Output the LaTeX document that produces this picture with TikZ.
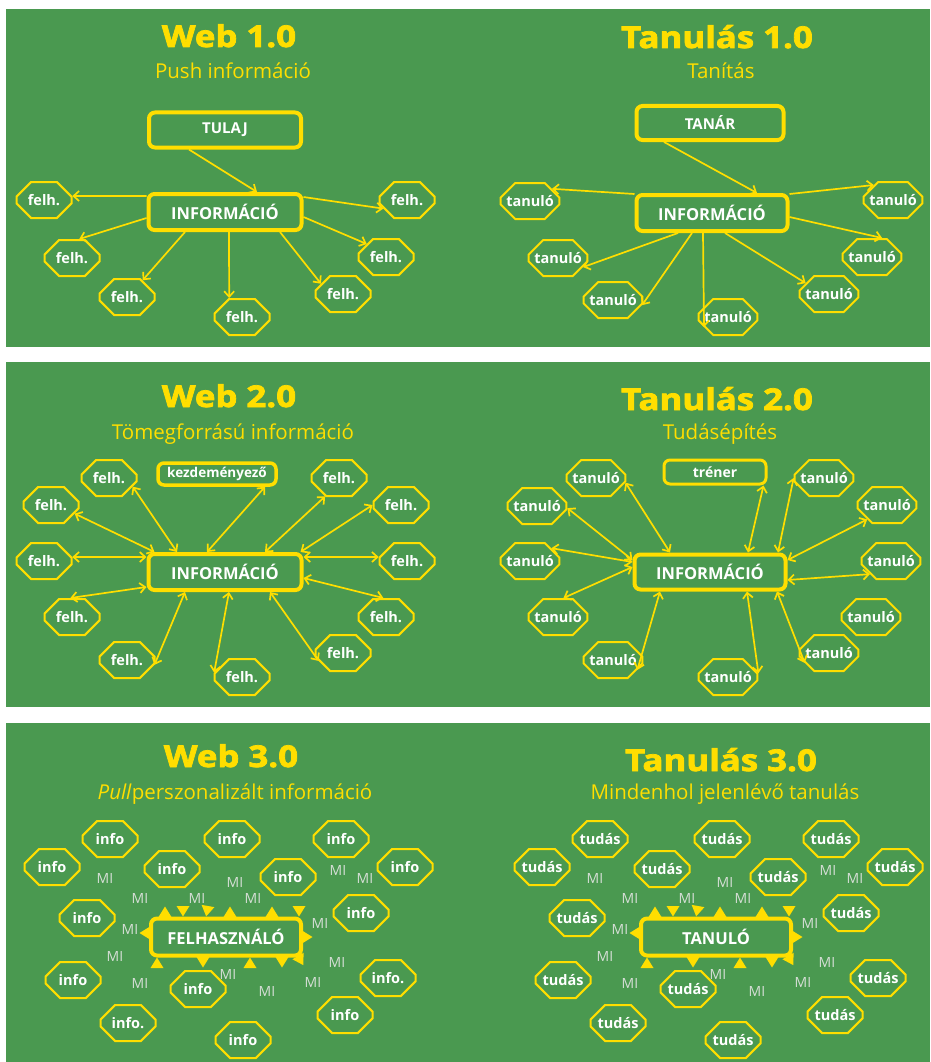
\documentclass[tikz,border=0pt]{standalone}
\usepackage{fontspec}
\setmainfont{Open Sans}
\newfontfamily\headfont{Open Sans}[BoldFeatures={FakeBold=2.5, FakeStretch=1.16}]
\usetikzlibrary{shapes.misc, arrows.meta, positioning}
\newcommand{\pxsize}[1]{\fontsize{#1}{#1}\selectfont}
\definecolor{boardgreen}{RGB}{74,153,80}
\definecolor{chalkyellow}{RGB}{255,222,0}
\definecolor{aigray}{RGB}{214,222,214}
\tikzstyle{panel_title} = [anchor=base, text=chalkyellow, font=\headfont\bfseries\pxsize{30}, inner sep=0pt]
\tikzstyle{panel_subtitle} = [anchor=base, text=chalkyellow, font=\pxsize{20.5}, inner sep=0pt]
\tikzstyle{center_box} = [rectangle, rounded corners=6pt, draw=chalkyellow, line width=4pt, text=white, font=\bfseries\pxsize{16.5}, minimum width=153pt, minimum height=36pt, inner sep=0pt]
\tikzstyle{member_node} = [chamfered rectangle, chamfered rectangle xsep=9pt, chamfered rectangle ysep=9pt, draw=chalkyellow, line width=2pt, text=white, font=\bfseries\pxsize{14.5}, minimum width=55pt, minimum height=36pt, inner sep=0pt]
\tikzstyle{ai_mark} = [text=aigray, font=\pxsize{14}, inner sep=0pt]
\tikzstyle{push_arrow} = [draw=chalkyellow, line width=1.7pt, -{Straight Barb[length=5.5pt, width=10pt]}]
\tikzstyle{share_arrow} = [draw=chalkyellow, line width=1.7pt, {Straight Barb[length=5.5pt, width=10pt]}-{Straight Barb[length=5.5pt, width=10pt]}]
\tikzset{spike/.pic={\fill[chalkyellow] (-6.5,0) -- (6.5,0) -- (0,-10.5) -- cycle;}}
% helyek a 3.0-s paneleken (x/y/felirat)
\newcommand{\cloudspots}{110/839/info, 52/867/info, 172/869/info, 232/839/info, 288/877/info, 341/839/info, 405/867/info, 87/918/info, 361/913/info, 73/980/info, 198/989/info, 388/978/info., 128/1023/info., 345/1015/info, 243/1040/info}
\newcommand{\aispots}{105/878, 140/898, 197/898, 235/882, 253/898, 338/870, 365/878, 130/929, 320/923, 115/956, 337/962, 140/983, 228/974, 267/991, 313/982}
\newcommand{\spikespots}{-61/-20/0, 4/-20/0, 46/-20/0, -43/-31/180, -18/-31/170, 73/-31/180, -76/-4/90, 76/0/-90, -69/31/0, 24/31/0, -23/20/180, 56/20/180, 72/19/210}

\begin{document}
\begin{tikzpicture}[x=1pt, y=-1pt]
\useasboundingbox (0,0) rectangle (930,1062);
\fill[boardgreen] (6,9) rectangle (930,347);
\fill[boardgreen] (6,362) rectangle (930,707);
\fill[boardgreen] (6,723) rectangle (930,1062);

% Web 1.0
\node (webOneTitle) [panel_title] at (229,47) {Web 1.0};
\node (webOneSub) [panel_subtitle] at (233,79) {Push információ};
\node (tulaj) [center_box, minimum width=152pt, minimum height=35pt, font=\bfseries\pxsize{15}] at (225,130) {TULAJ};
\node (webOneInfo) [center_box] at (225,212) {INFORMÁCIÓ};
\node (felhA) [member_node] at (44,200) {felh.};
\node (felhB) [member_node] at (72,258) {felh.};
\node (felhC) [member_node] at (127,297) {felh.};
\node (felhD) [member_node] at (242,317) {felh.};
\node (felhE) [member_node] at (343,294) {felh.};
\node (felhF) [member_node] at (386,257) {felh.};
\node (felhG) [member_node] at (407,200) {felh.};
\draw [push_arrow] ([xshift=-36pt]tulaj.south) -- ([xshift=32pt]webOneInfo.north);
\draw [push_arrow] ([yshift=16pt]webOneInfo.west) -- (felhA.8);
\draw [push_arrow] ([yshift=-6pt]webOneInfo.west) -- (felhB.69);
\draw [push_arrow] ([xshift=-40pt]webOneInfo.south) -- (felhC.47);
\draw [push_arrow] ([xshift=4pt]webOneInfo.south) -- (felhD.124);
\draw [push_arrow] ([xshift=55pt]webOneInfo.south) -- (felhE.155);
\draw [push_arrow] ([yshift=-5pt]webOneInfo.east) -- (felhF.146);
\draw [push_arrow] ([yshift=15pt]webOneInfo.east) -- (felhG.200);

% Tanulás 1.0
\node (tanOneTitle) [panel_title] at (717,48) {Tanulás 1.0};
\node (tanOneSub) [panel_subtitle] at (721,79) {Tanítás};
\node (tanar) [center_box, minimum width=147pt, minimum height=34pt, font=\bfseries\pxsize{15}] at (710,123) {TANÁR};
\node (tanOneInfo) [center_box, minimum width=151pt] at (712,213) {INFORMÁCIÓ};
\node (tanA) [member_node] at (530,201) {tanuló};
\node (tanB) [member_node] at (558,258) {tanuló};
\node (tanC) [member_node] at (613,300) {tanuló};
\node (tanD) [member_node] at (728,317) {tanuló};
\node (tanE) [member_node] at (829,294) {tanuló};
\node (tanF) [member_node] at (872,257) {tanuló};
\node (tanG) [member_node] at (893,200) {tanuló};
\draw [push_arrow] ([xshift=-46pt]tanar.south) -- ([xshift=45pt]tanOneInfo.north);
\draw [push_arrow] ([yshift=19pt]tanOneInfo.west) -- (tanA.29);
\draw [push_arrow] ([xshift=-34pt]tanOneInfo.south) -- (tanB.340);
\draw [push_arrow] ([xshift=-20pt]tanOneInfo.south) -- (tanC.350);
\draw [push_arrow] ([xshift=-9pt]tanOneInfo.south) -- (tanD.203);
\draw [push_arrow] ([xshift=13pt]tanOneInfo.south) -- (tanE.155);
\draw [push_arrow] ([yshift=-4pt]tanOneInfo.east) -- (tanF.62);
\draw [push_arrow] ([yshift=19pt]tanOneInfo.east) -- (tanG.142);

% Web 2.0
\node (webTwoTitle) [panel_title] at (229,407) {Web 2.0};
\node (webTwoSub) [panel_subtitle] at (233,439) {Tömegforrású információ};
\node (kezd) [center_box, minimum width=118pt, minimum height=22pt, line width=3.5pt, font=\bfseries\pxsize{13.5}] at (217,474) {kezdeményező};
\node (webTwoInfo) [center_box] at (225,572) {INFORMÁCIÓ};
\node (peerA) [member_node] at (109,478) {felh.};
\node (peerB) [member_node] at (51,505) {felh.};
\node (peerC) [member_node] at (44,561) {felh.};
\node (peerD) [member_node] at (72,617) {felh.};
\node (peerE) [member_node] at (127,660) {felh.};
\node (peerF) [member_node] at (242,677) {felh.};
\node (peerG) [member_node] at (343,653) {felh.};
\node (peerH) [member_node] at (386,617) {felh.};
\node (peerI) [member_node] at (407,561) {felh.};
\node (peerJ) [member_node] at (401,505) {felh.};
\node (peerK) [member_node] at (339,478) {felh.};
\draw [share_arrow] ([xshift=-18pt]webTwoInfo.north) -- ([xshift=48pt]kezd.south);
\draw [share_arrow] ([xshift=-48pt]webTwoInfo.north) -- (peerA.340);
\draw [share_arrow] ([xshift=8pt]webTwoInfo.north west) -- (peerB.340);
\draw [share_arrow] ([yshift=15pt]webTwoInfo.west) -- (peerC.8);
\draw [share_arrow] ([yshift=-15pt]webTwoInfo.west) -- (peerD.95);
\draw [share_arrow] ([xshift=-40pt]webTwoInfo.south) -- (peerE.350);
\draw [share_arrow] ([xshift=4pt]webTwoInfo.south) -- (peerF.171);
\draw [share_arrow] ([xshift=45pt]webTwoInfo.south) -- (peerG.198);
\draw [share_arrow] ([yshift=-6pt]webTwoInfo.east) -- (peerH.98);
\draw [share_arrow] ([yshift=15pt]webTwoInfo.east) -- (peerI.172);
\draw [share_arrow] ([xshift=-3pt]webTwoInfo.north east) -- (peerJ.180);
\draw [share_arrow] ([xshift=40pt]webTwoInfo.north) -- (peerK.233);

% Tanulás 2.0
\node (tanTwoTitle) [panel_title] at (717,410) {Tanulás 2.0};
\node (tanTwoSub) [panel_subtitle] at (720,439) {Tudásépítés};
\node (trener) [center_box, minimum width=102pt, minimum height=24pt, line width=3pt, font=\bfseries\pxsize{14}] at (715,472) {tréner};
\node (tanTwoInfo) [center_box, minimum width=151pt, minimum height=35pt] at (710,572) {INFORMÁCIÓ};
\node (learnA) [member_node] at (596,478) {tanuló};
\node (learnB) [member_node] at (537,506) {tanuló};
\node (learnC) [member_node] at (530,561) {tanuló};
\node (learnD) [member_node] at (558,617) {tanuló};
\node (learnE) [member_node] at (613,660) {tanuló};
\node (learnF) [member_node] at (728,677) {tanuló};
\node (learnG) [member_node] at (829,653) {tanuló};
\node (learnH) [member_node] at (871,617) {tanuló};
\node (learnI) [member_node] at (891,561) {tanuló};
\node (learnJ) [member_node] at (887,505) {tanuló};
\node (learnK) [member_node] at (824,478) {tanuló};
\draw [share_arrow] ([xshift=-4pt]trener.south east) -- ([xshift=38pt]tanTwoInfo.north);
\draw [share_arrow] ([xshift=-40pt]tanTwoInfo.north) -- (learnA.351);
\draw [share_arrow] ([yshift=12pt]tanTwoInfo.west) -- (learnB.356);
\draw [share_arrow] ([yshift=10pt]tanTwoInfo.west) -- (learnC.31);
\draw [share_arrow] ([yshift=5pt]tanTwoInfo.west) -- (learnD.74);
\draw [share_arrow] ([xshift=-50pt]tanTwoInfo.south) -- (learnE.338);
\draw [share_arrow] ([xshift=37pt]tanTwoInfo.south) -- (learnF.7);
\draw [share_arrow] ([xshift=67pt]tanTwoInfo.south) -- (learnG.202);
\draw [share_arrow] ([yshift=-8pt]tanTwoInfo.east) -- (learnI.212);
\draw [share_arrow] ([yshift=12pt]tanTwoInfo.east) -- (learnJ.216);
\draw [share_arrow] ([xshift=68pt]tanTwoInfo.north) -- (learnK.180);

% Web 3.0
\node (webThreeTitle) [panel_title] at (231,767) {Web 3.0};
\node (webThreeSub) [panel_subtitle] at (235,799) {\textit{Pull}perszonalizált információ};
\foreach \x/\y/\lab [count=\i] in \cloudspots
  \node (infoCloud\i) [member_node] at (\x,\y) {\lab};
\foreach \dx/\dy/\rot in \spikespots
  \pic [rotate=\rot] at (226+\dx,937+\dy) {spike};
\node (felhasznalo) [center_box, minimum width=150pt, minimum height=37pt] at (226,937) {FELHASZNÁLÓ};
\foreach \x/\y [count=\i] in \aispots
  \node (aiWeb\i) [ai_mark] at (\x,\y) {MI};

% Tanulás 3.0
\node (tanThreeTitle) [panel_title] at (721,771) {Tanulás 3.0};
\node (tanThreeSub) [panel_subtitle] at (725,799) {Mindenhol jelenlévő tanulás};
\foreach \x/\y/\lab [count=\i] in \cloudspots
  \node (knowCloud\i) [member_node] at (\x+490,\y) {tudás};
\foreach \dx/\dy/\rot in \spikespots
  \pic [rotate=\rot] at (716+\dx,937+\dy) {spike};
\node (tanulo) [center_box, minimum width=150pt, minimum height=37pt] at (716,937) {TANULÓ};
\foreach \x/\y [count=\i] in \aispots
  \node (aiTan\i) [ai_mark] at (\x+490,\y) {MI};
\end{tikzpicture}
\end{document}
